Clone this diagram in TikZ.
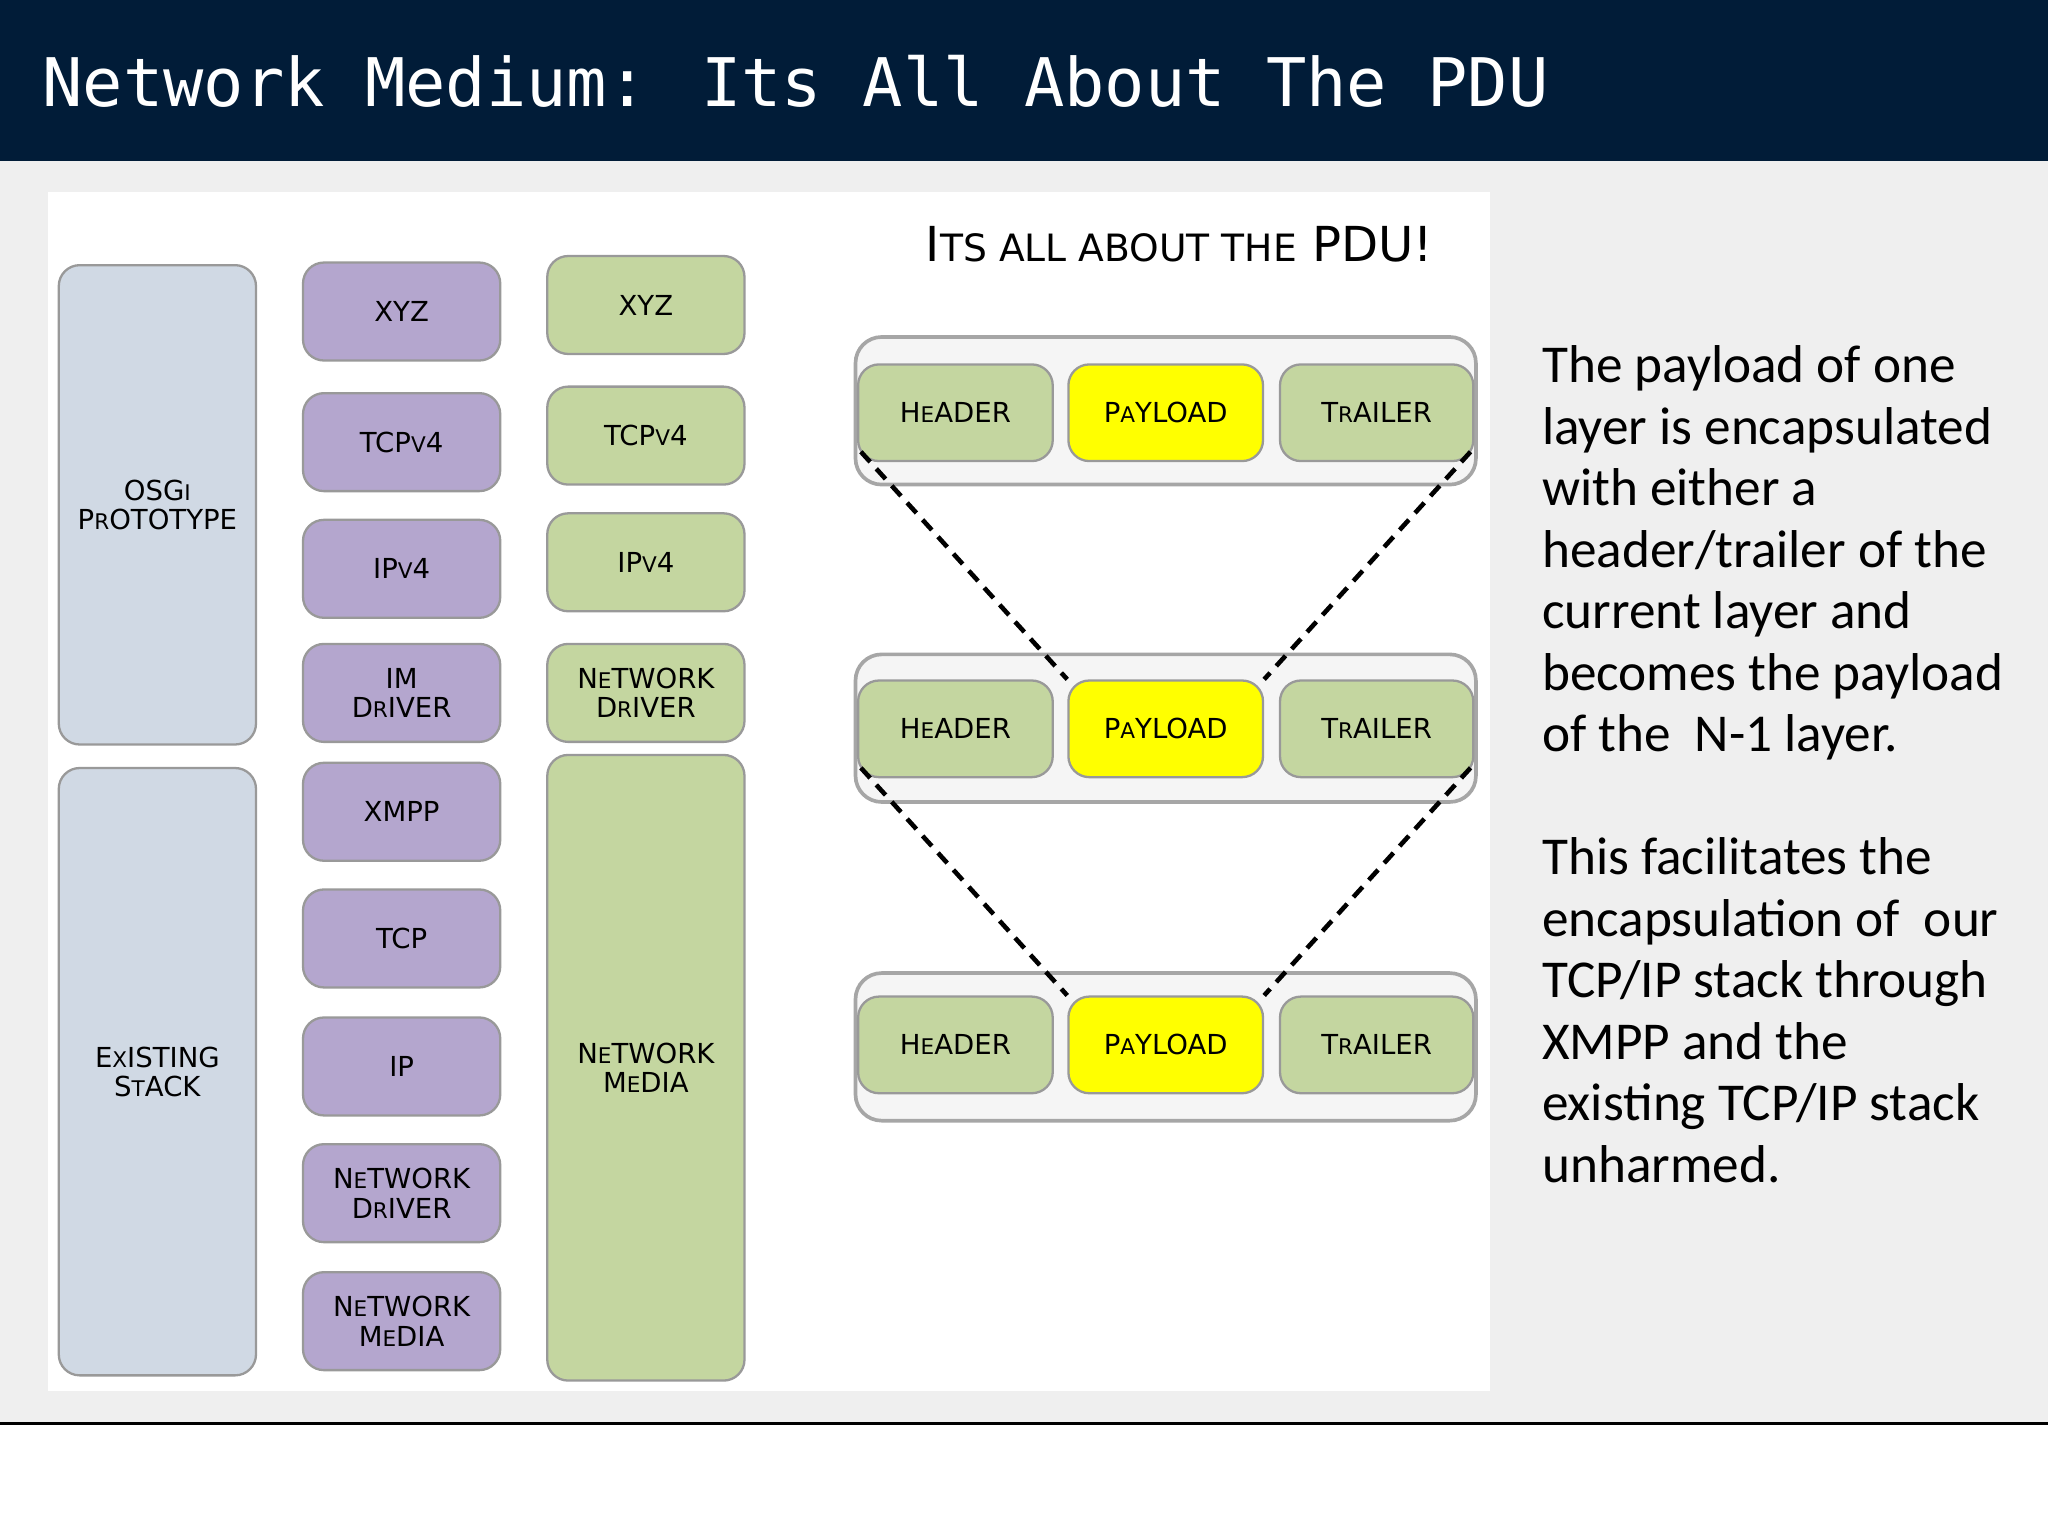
\documentclass[tikz,border=0pt]{standalone}
\usepackage{fontspec}
\setmainfont{DejaVu Sans}
\newfontfamily\monofont{DejaVu Sans Mono}
\newfontfamily\bodyfont{Carlito}
\usetikzlibrary{positioning}
\definecolor{navy}{RGB}{1,28,56}
\definecolor{slidebg}{RGB}{239,239,239}
\definecolor{bluegray}{RGB}{208,217,228}
\definecolor{lilac}{RGB}{180,166,206}
\definecolor{olive}{RGB}{196,214,160}
\definecolor{pay}{RGB}{255,255,0}
\newcommand{\sm}[1]{{\fontsize{4.7pt}{5pt}\selectfont #1}}
\begin{document}
\begin{tikzpicture}[x=0.1mm,y=-0.1mm,
  blk/.style={draw=gray!80,line width=0.5pt,rounded corners=1.6mm,align=center,
    font=\fontsize{6pt}{6.4pt}\selectfont,inner sep=0pt},
  bl/.style={blk,fill=bluegray},
  pu/.style={blk,fill=lilac},
  gr/.style={blk,fill=olive},
  py/.style={blk,fill=pay},
  row/.style={draw=gray!70,line width=0.8pt,fill=slidebg!60,rounded corners=2mm},
  link/.style={densely dashed,line width=1pt}]
\useasboundingbox (0,0) rectangle (1568,1176);
% backgrounds
\fill[white] (0,0) rectangle (1568,1176);
\fill[slidebg] (0,123) rectangle (1568,1090);
\draw[line width=0.6pt] (0,1090) -- (1568,1090);
\fill[navy] (0,0) rectangle (1568,123);
\node[anchor=west,white,font=\monofont\fontsize{14.6pt}{16pt}\selectfont] (title) at (20,62) {Network Medium: Its All About The PDU};
\fill[white] (37,147) rectangle (1141,1065);
% left stacks
\newcommand{\bx}[6]{\node[#1,minimum width=151*0.1mm,minimum height=(#4-#3)*0.1mm] (#6) at (#2,{(#3+#4)/2}) {#5};}
\bx{bl}{120.5}{203}{570}{OSG{\sm I}\\P{\sm ROTOTYPE}}{osgi}
\bx{bl}{120.5}{588}{1053}{E{\sm XISTING}\\S{\sm TACK}}{exist}
\bx{pu}{307.5}{201}{276}{XYZ}{p1}
\bx{pu}{307.5}{301}{376}{TCP{\sm V}4}{p2}
\bx{pu}{307.5}{398}{473}{IP{\sm V}4}{p3}
\bx{pu}{307.5}{493}{568}{IM\\D{\sm RIVER}}{p4}
\bx{pu}{307.5}{584}{659}{XMPP}{p5}
\bx{pu}{307.5}{681}{756}{TCP}{p6}
\bx{pu}{307.5}{779}{854}{IP}{p7}
\bx{pu}{307.5}{876}{951}{N{\sm ETWORK}\\D{\sm RIVER}}{p8}
\bx{pu}{307.5}{974}{1049}{N{\sm ETWORK}\\M{\sm EDIA}}{p9}
\bx{gr}{494.5}{196}{271}{XYZ}{g1}
\bx{gr}{494.5}{296}{371}{TCP{\sm V}4}{g2}
\bx{gr}{494.5}{393}{468}{IP{\sm V}4}{g3}
\bx{gr}{494.5}{493}{568}{N{\sm ETWORK}\\D{\sm RIVER}}{g4}
\bx{gr}{494.5}{578}{1057}{N{\sm ETWORK}\\M{\sm EDIA}}{g5}
% PDU
\node[font=\fontsize{10.5pt}{12pt}\selectfont] (pdut) at (903,187) {I{\fontsize{8.2pt}{9pt}\selectfont TS ALL ABOUT THE} PDU!};
\foreach \r/\t/\o in {1/279/258,2/521/501,3/763/745}{
  \draw[row] (655,\o) rectangle (1130,\o+113);
  \node[gr,minimum width=14.9mm,minimum height=7.4mm] (h\r) at (731.5,\t+37) {H{\sm EADER}};
  \node[py,minimum width=14.9mm,minimum height=7.4mm] (y\r) at (892.5,\t+37) {P{\sm AYLOAD}};
  \node[gr,minimum width=14.8mm,minimum height=7.4mm] (t\r) at (1054,\t+37) {T{\sm RAILER}};
}
\draw[link] ([shift={(3,-8)}]h1.south west) -- (y2.north west);
\draw[link] ([shift={(-3,-8)}]t1.south east) -- (y2.north east);
\draw[link] ([shift={(3,-8)}]h2.south west) -- (y3.north west);
\draw[link] ([shift={(-3,-8)}]t2.south east) -- (y3.north east);
% text
\node[anchor=north west,align=left,font=\bodyfont\fontsize{11.6pt}{13.4pt}\selectfont,inner sep=0pt] (txt) at (1180,264)
{The payload of one\\layer is encapsulated\\with either a\\header/trailer of the\\current layer and\\becomes the payload\\of the\ \ N-1 layer.\\[13.4pt]This facilitates the\\encapsulation of\ \ our\\TCP/IP stack through\\XMPP and the\\existing TCP/IP stack\\unharmed.};
\end{tikzpicture}
\end{document}
